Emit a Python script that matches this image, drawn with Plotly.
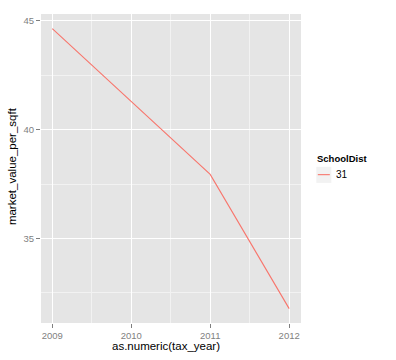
import plotly.graph_objects as go

tax_year = [2009, 2010, 2011, 2012]
market_value_per_sqft = [44.65, 41.3, 37.95, 31.78]
school_dist = "31"
legend_title = "SchoolDist"

W, H = 396, 360
L, R, T, B = 41, 300.7, 14, 322.7

fig = go.Figure()
fig.add_trace(go.Scatter(x=tax_year, y=market_value_per_sqft, mode="lines",
                         line=dict(color="#F8766D", width=1.1), name=school_dist,
                         showlegend=False))

pw, ph = R - L, B - T
def px(x): return (x - L) / pw
def py(y): return 1 - (y - T) / ph

fig.add_shape(type="rect", xref="paper", yref="paper",
              x0=px(316), x1=px(331), y0=py(182.7), y1=py(166.7),
              fillcolor="#F2F2F2", line=dict(width=0), layer="above")
fig.add_shape(type="line", xref="paper", yref="paper",
              x0=px(317.5), x1=px(329.5), y0=py(174.5), y1=py(174.5),
              line=dict(color="#F8766D", width=1.1), layer="above")
fig.add_annotation(text="<b>" + legend_title + "</b>", xref="paper", yref="paper",
                   x=px(315), y=py(158), xanchor="left", yanchor="middle",
                   showarrow=False, font=dict(size=9.5, color="black"))
fig.add_annotation(text=school_dist, xref="paper", yref="paper",
                   x=px(334), y=py(174.5), xanchor="left", yanchor="middle",
                   showarrow=False, font=dict(size=10, color="black"))
fig.add_annotation(text="as.numeric(tax_year)", xref="paper", yref="paper",
                   x=px(166), y=py(346), xanchor="center", yanchor="middle",
                   showarrow=False, font=dict(size=11.5, color="black"))
fig.add_annotation(text="market_value_per_sqft", xref="paper", yref="paper",
                   x=px(12), y=py(166), xanchor="center", yanchor="middle", textangle=-90,
                   showarrow=False, font=dict(size=11.5, color="black"))

axis_common = dict(showline=False, zeroline=False, gridcolor="white", gridwidth=1.1,
                   ticks="outside", ticklen=4, tickcolor="#7F7F7F", tickwidth=1,
                   tickfont=dict(size=9.5, color="#7F7F7F"), automargin=False)
fig.update_xaxes(range=[2008.857, 2012.15], tick0=2009, dtick=1,
                 minor=dict(tick0=2009.5, dtick=1, showgrid=True, gridcolor="#F2F2F2", gridwidth=0.6),
                 **axis_common)
fig.update_yaxes(range=[31.12, 45.32], tick0=35, dtick=5,
                 minor=dict(tick0=32.5, dtick=5, showgrid=True, gridcolor="#F2F2F2", gridwidth=0.6),
                 **axis_common)
fig.update_layout(width=W, height=H, autosize=False,
                  margin=dict(l=L, r=W - R, t=T, b=H - B, pad=0),
                  plot_bgcolor="#E5E5E5", paper_bgcolor="white",
                  font=dict(family="Liberation Sans, Arial, sans-serif"))
fig.write_html("out.html", config={"displayModeBar": False},
               post_script="document.body.style.margin='0';document.body.style.overflow='hidden';")
